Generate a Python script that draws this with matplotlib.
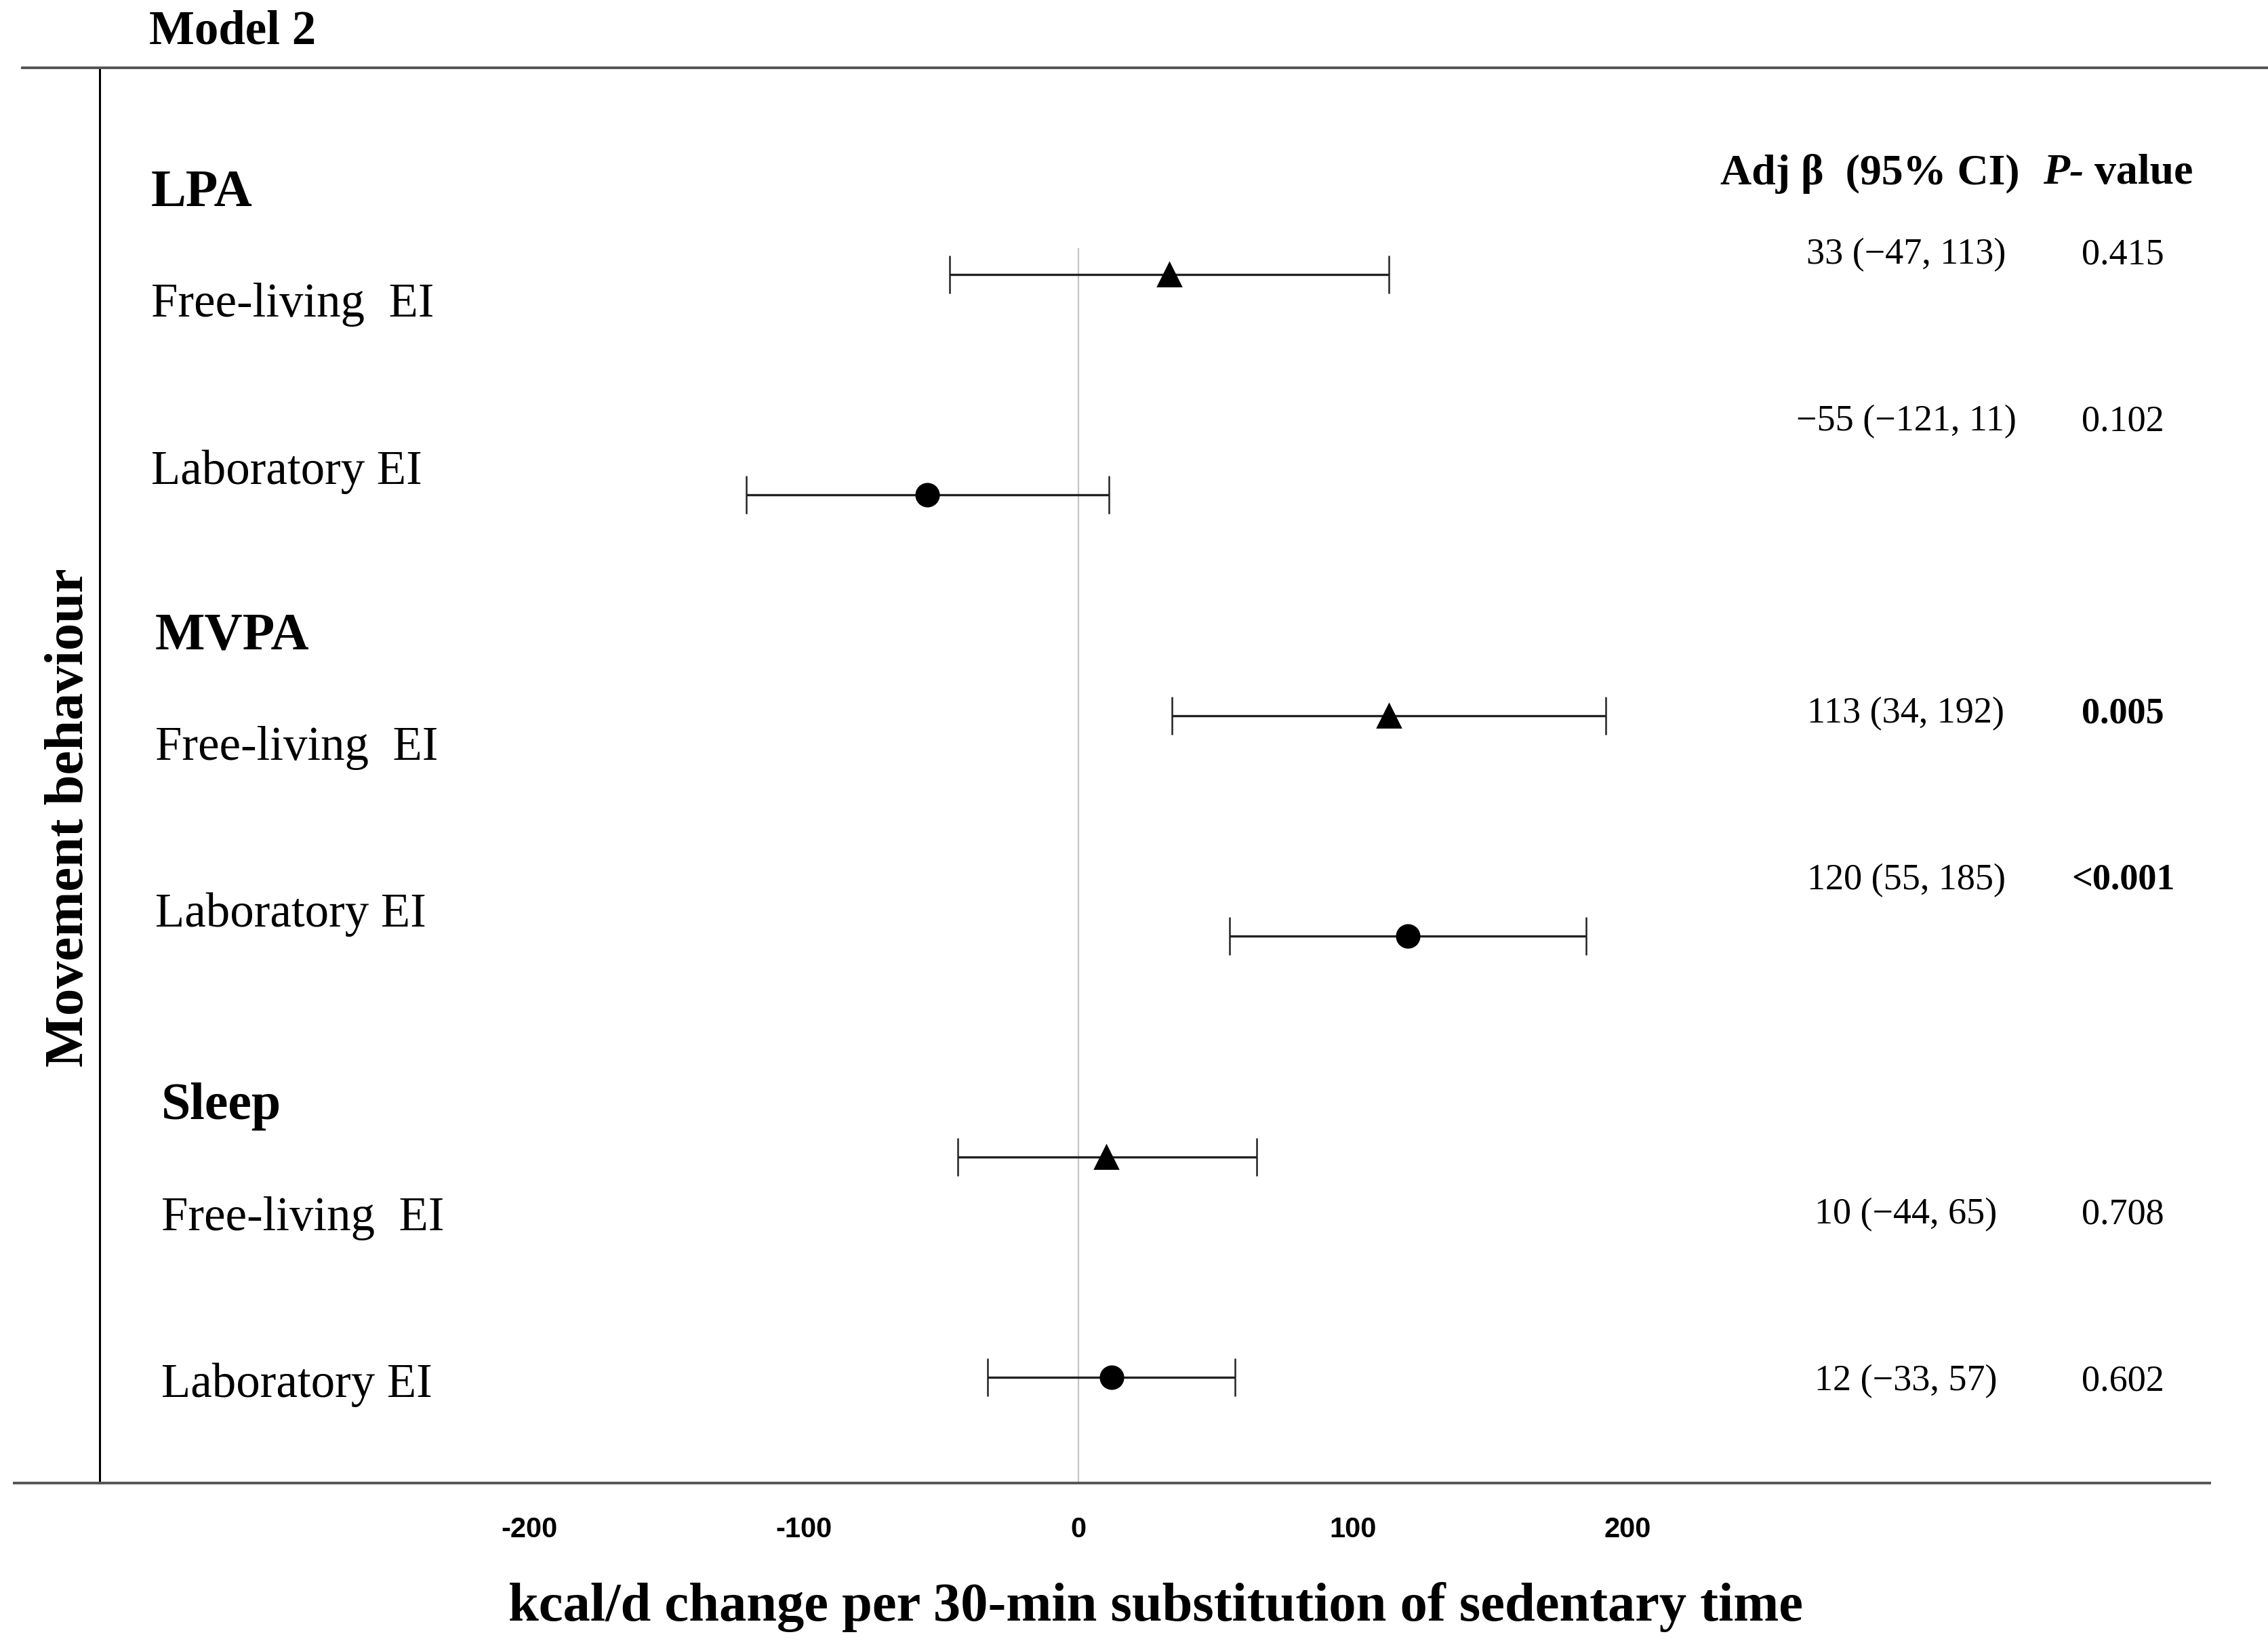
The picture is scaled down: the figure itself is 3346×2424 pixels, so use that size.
import numpy as np
import matplotlib.pyplot as plt
from matplotlib.lines import Line2D

plt.rcParams["font.family"] = ["Liberation Serif", "DejaVu Serif"]
plt.rcParams["axes.unicode_minus"] = False

# ======================
# data
# ======================
groups = ["LPA", "MVPA", "Sleep"]
outcomes = ["Free-living  EI", "Laboratory EI"]
est = [33, -55, 113, 120, 10, 12]
lo = [-47, -121, 34, 55, -44, -33]
hi = [113, 11, 192, 185, 65, 57]
ci_text = ["33 (\u221247, 113)", "\u221255 (\u2212121, 11)", "113 (34, 192)",
           "120 (55, 185)", "10 (\u221244, 65)", "12 (\u221233, 57)"]
p_text = ["0.415", "0.102", "0.005", "<0.001", "0.708", "0.602"]
p_bold = [False, False, True, True, False, False]
xticks = [-200, -100, 0, 100, 200]
xtick_labels = ["-200", "-100", "0", "100", "200"]

# ======================
# layout (pixels of the 3346x2424 canvas)
# ======================
W, H, DPI = 3346, 2424, 200


def fx(x):
    return x / W


def fy(y):
    return 1 - y / H


group_x = [223, 229, 238]
group_y = [285, 939, 1633]
label_y = [449, 696, 1103, 1349, 1797, 2043]
value_y = [376, 622, 1053, 1299, 1792, 2038]

fig = plt.figure(figsize=(W / DPI, H / DPI), dpi=DPI)
ax = fig.add_axes([fx(147), fy(2188), (3260 - 147) / W, (2188 - 100) / H])
ax.set_xlim(-356.5, 412)
ax.set_ylim(5.478, -0.937)

rows = np.arange(len(est))
for i in rows:
    marker = "^" if i % 2 == 0 else "o"
    ax.errorbar(est[i], rows[i], xerr=[[est[i] - lo[i]], [hi[i] - est[i]]],
                fmt=marker, color="black", ms=12, ecolor="#222222",
                elinewidth=1.2, capsize=10, capthick=0.9, zorder=3)

ax.axvline(0, ymin=0, ymax=0.872, color="#c4c4c4", lw=0.8, zorder=1)

for s in ["top", "right", "bottom"]:
    ax.spines[s].set_visible(False)
ax.spines["left"].set_color("black")
ax.spines["left"].set_linewidth(1.1)
ax.set_yticks([])
ax.set_xticks(xticks)
ax.set_xticklabels(xtick_labels, family="Liberation Sans", fontweight="bold", fontsize=15)
ax.tick_params(axis="x", length=0, pad=17.5)

# horizontal rules
fig.add_artist(Line2D([fx(33), 1], [fy(100), fy(100)], color="#555555", lw=1.4,
                      transform=fig.transFigure))
fig.add_artist(Line2D([fx(21), fx(3260)], [fy(2188), fy(2188)], color="#555555", lw=1.4,
                      transform=fig.transFigure))

# titles
fig.text(fx(220), fy(47), "Model 2", fontsize=25.5, fontweight="bold", va="center")
fig.text(fx(1705), fy(2371), "kcal/d change per 30-min substitution of sedentary time",
         fontsize=29, fontweight="bold", ha="center", va="center")
fig.text(fx(103), fy(1206), "Movement behaviour", fontsize=29, fontweight="bold",
         rotation=90, ha="center", va="center")

# row labels
for g in range(len(groups)):
    fig.text(fx(group_x[g]), fy(group_y[g]), groups[g], fontsize=28, fontweight="bold", va="center")
    for k in range(len(outcomes)):
        fig.text(fx(group_x[g]), fy(label_y[g * 2 + k]), outcomes[k], fontsize=25.5, va="center")

# table columns
fig.text(fx(2759), fy(256), "Adj \u03b2  (95% CI)", fontsize=23, fontweight="bold",
         ha="center", va="center")
fig.text(fx(3014), fy(256), "P-", fontsize=23, fontweight="bold", style="italic", va="center")
fig.text(fx(3090), fy(256), "value", fontsize=23, fontweight="bold", va="center")
for i in rows:
    fig.text(fx(2812), fy(value_y[i]), ci_text[i], fontsize=19.5, ha="center", va="center")
    fig.text(fx(3132), fy(value_y[i]), p_text[i], fontsize=19.5, ha="center", va="center",
             fontweight="bold" if p_bold[i] else "normal")

fig.savefig("out.png", dpi=DPI)
